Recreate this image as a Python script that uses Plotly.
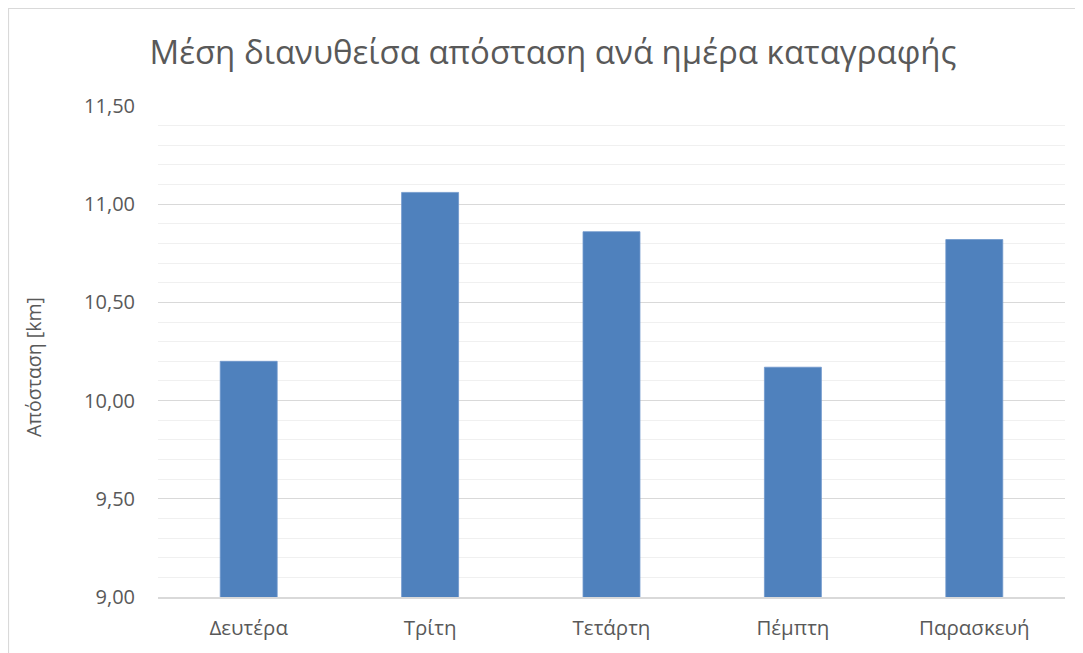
import plotly.graph_objects as go

days = ["Δευτέρα", "Τρίτη", "Τετάρτη", "Πέμπτη", "Παρασκευή"]
distance_km = [10.20, 11.06, 10.86, 10.17, 10.82]

title_text = "Μέση διανυθείσα απόσταση ανά ημέρα καταγραφής"
y_title = "Απόσταση [km]"

# page body has an 8px margin, so the figure starts at (8, 8)
OFF = 8
W, H = 1075, 645
ML, MR, MT, MB = 150, 18, 98, 56
FONT = "Open Sans, Noto Sans, sans-serif"
GREY = "#595959"

pw = W - ML - MR
ph = H - MT - MB

def px_x(page_x):
    return (page_x - OFF - ML) / pw

def px_y(page_y):
    return 1 - (page_y - OFF - MT) / ph

fig = go.Figure(go.Bar(
    x=days, y=distance_km,
    marker=dict(color="#4f81bd", line=dict(color="#6f97cc", width=0.8)),
    width=0.314,
))

# chart border (left and top edges visible)
fig.add_shape(type="rect", xref="paper", yref="paper",
              x0=px_x(8.5), x1=px_x(1100), y0=px_y(700), y1=px_y(8.5),
              line=dict(color="#d9d9d9", width=1.2), fillcolor="rgba(0,0,0,0)",
              layer="below")

fig.add_annotation(text=y_title, xref="paper", yref="paper",
                   x=px_x(33), y=px_y(367), xanchor="center", yanchor="middle",
                   textangle=-90, showarrow=False,
                   font=dict(family=FONT, size=19.5, color=GREY))

fig.update_layout(
    width=W, height=H,
    margin=dict(l=ML, r=MR, t=MT, b=MB),
    paper_bgcolor="white", plot_bgcolor="white",
    separators=",.",
    showlegend=False,
    title=dict(text=title_text, xref="container", x=(553 - OFF) / W, xanchor="center",
               yref="container", y=1 - (52 - OFF) / H, yanchor="middle",
               font=dict(family=FONT, size=33, color=GREY)),
    font=dict(family=FONT, color=GREY),
    bargap=0.686,
)
fig.update_xaxes(
    showgrid=False, showline=True, linecolor="#d9d9d9", linewidth=1.5,
    ticks="", tickfont=dict(size=20.5, color=GREY), ticklabelstandoff=12,
)
fig.update_yaxes(
    range=[9, 11.5], dtick=0.5, tick0=9, tickformat=".2f",
    showgrid=True, gridcolor="#d9d9d9", gridwidth=1.3,
    minor=dict(dtick=0.1, tick0=9, showgrid=True, gridcolor="#f0f0f0", gridwidth=1.3),
    zeroline=False, showline=False, ticks="",
    tickfont=dict(size=20, color=GREY), ticklabelstandoff=22,
)

fig.write_html("out.html")
